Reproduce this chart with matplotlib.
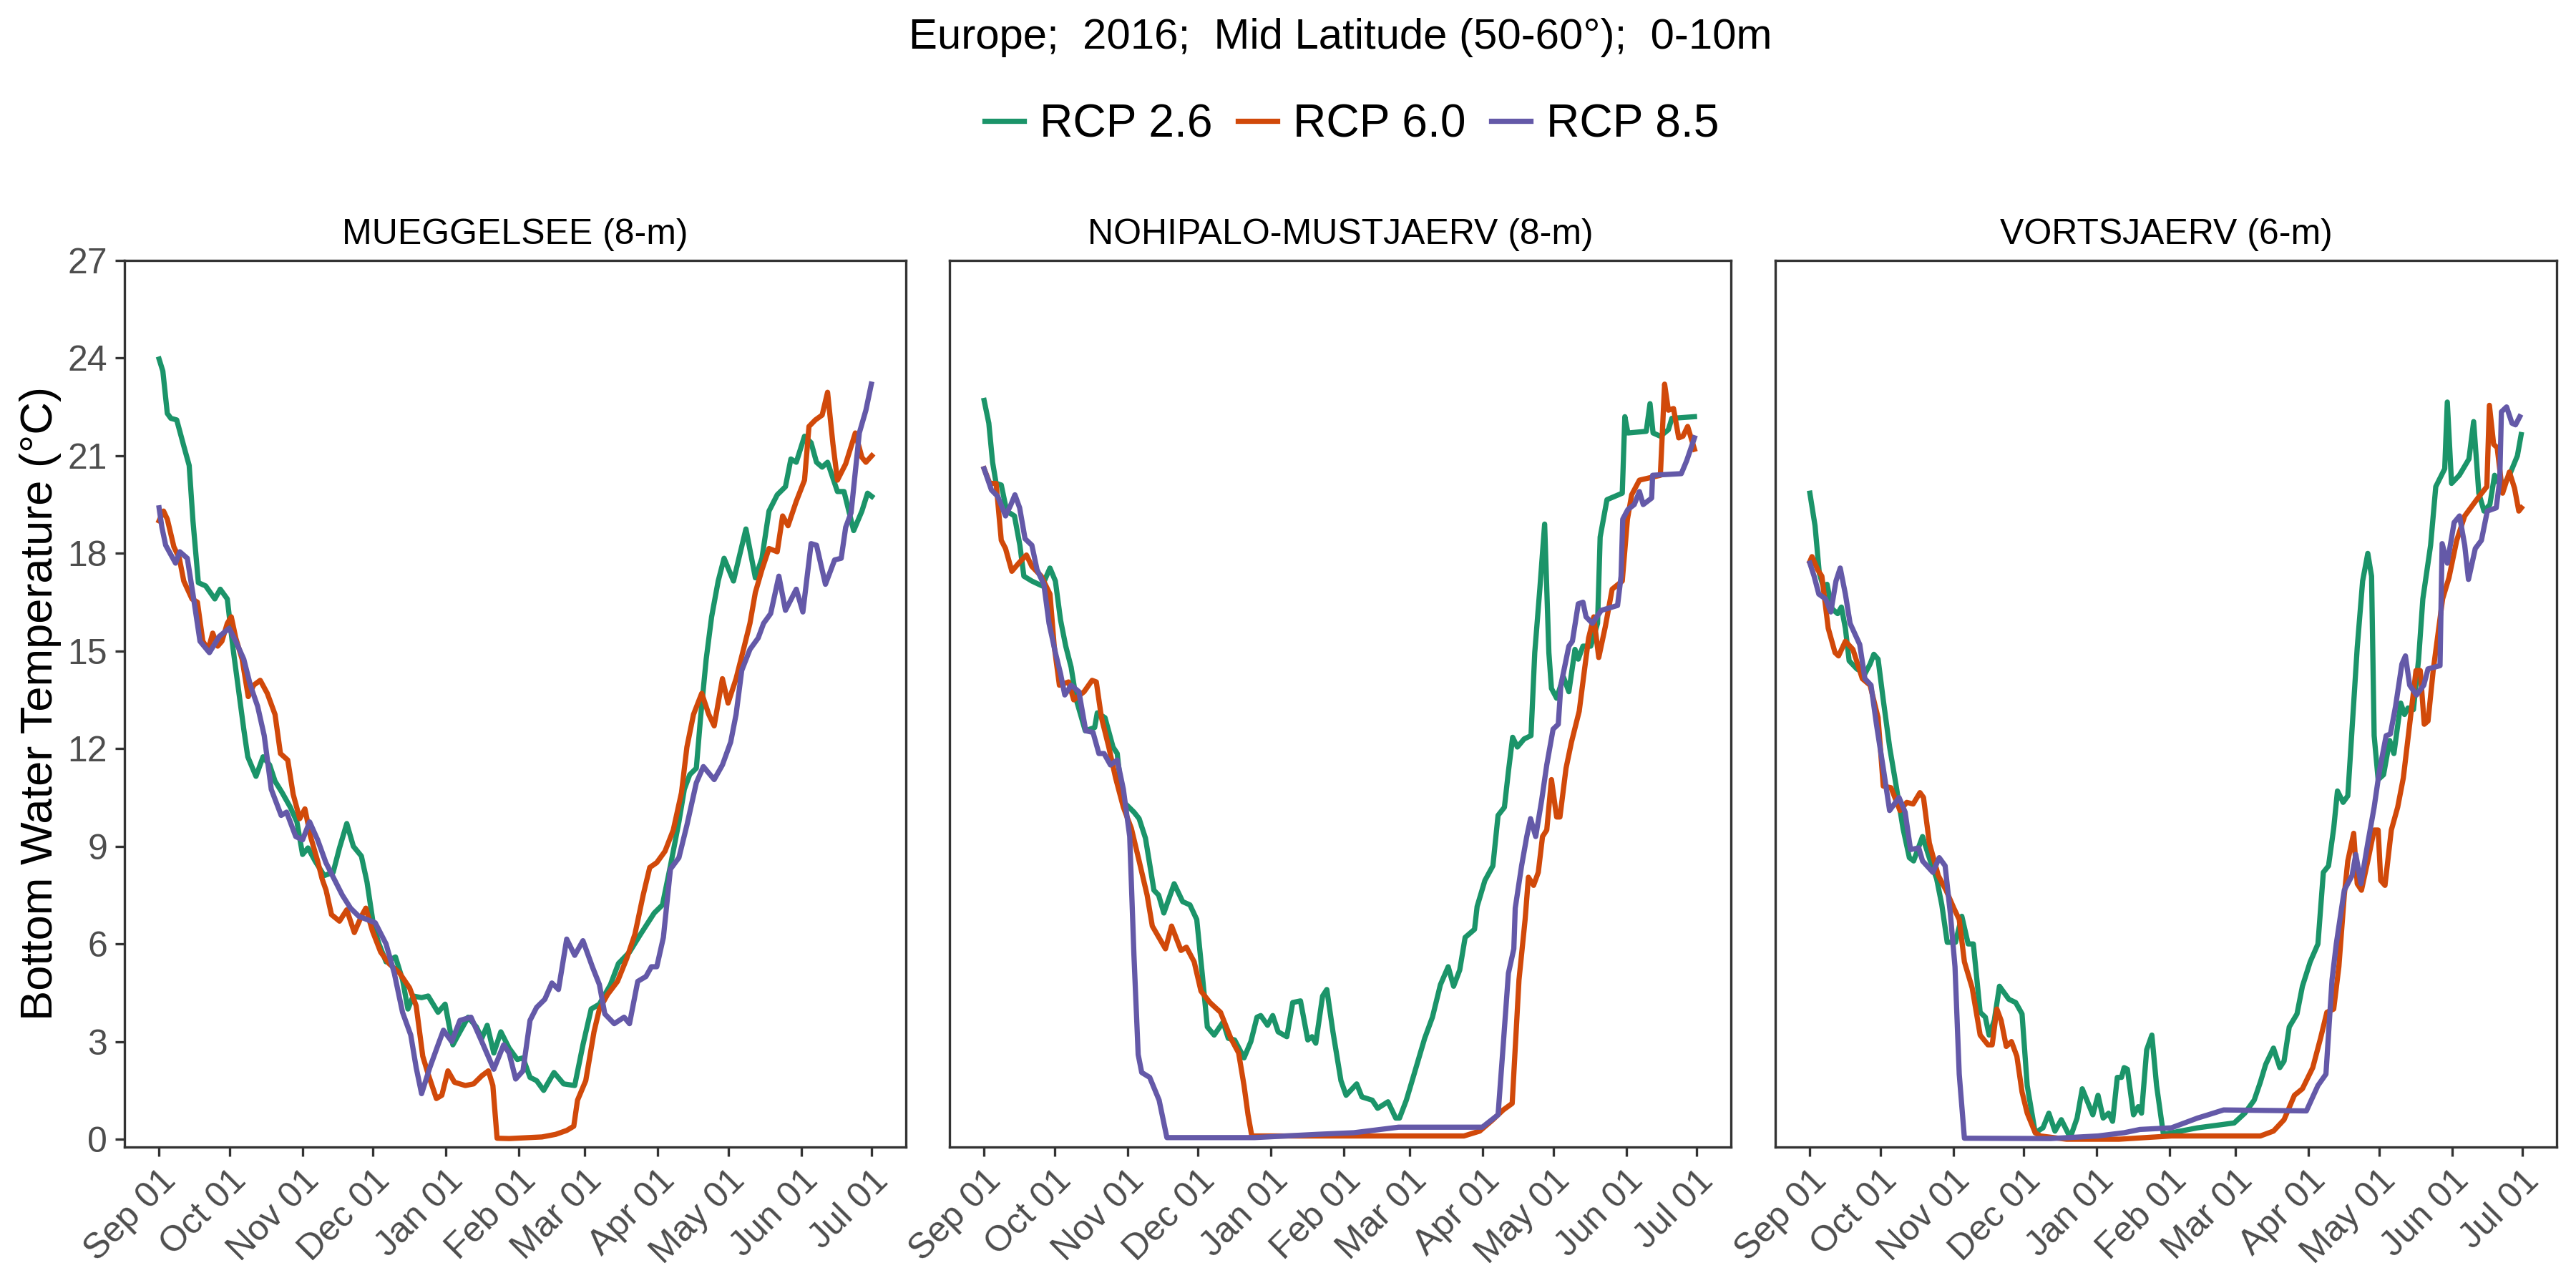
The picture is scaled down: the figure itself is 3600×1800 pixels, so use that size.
import datetime
import matplotlib
matplotlib.use('Agg')
from matplotlib import pyplot as plt
import matplotlib.dates as mdates
import numpy as np

plt.rcParams['font.family'] = ['Liberation Sans', 'DejaVu Sans']

# days are counted from Sep 01 2016
mug_days_26 = [0, 1.6, 3.5, 5, 7.5, 10.5, 12.8, 14.4, 16.7, 19.8, 23.7, 26, 29, 31.4, 33.7, 36, 37.7, 41.2, 44.2, 47, 49.3, 52.3, 55.8, 58.6, 61, 63.3, 66.3, 70.2, 74, 76.7, 79.8, 82.6, 86, 88.4, 91.2, 93.5, 96.5, 100.5, 103.5, 105.8, 108, 111.6, 114.4, 118.6, 121.6, 124.9, 127.9, 131.4, 134.9, 137.2, 139.5, 142.3, 145.3, 148.8, 152.3, 154.7, 157.7, 160.5, 163.5, 167.9, 172, 176.7, 180.2, 183.7, 187.2, 191.9, 195.3, 200, 204.7, 210.5, 214, 217.4, 221, 223.3, 225.6, 228.4, 230.2, 232.6, 234.9, 237.7, 240.2, 244.2, 246.5, 249.5, 253.5, 256.3, 259.3, 262.8, 266.3, 268.6, 270.9, 274.4, 277.2, 279.5, 281.9, 284.2, 288.4, 291.2, 295.3, 298.8, 301.2, 303]
mug_vals_26 = [23.97, 23.6, 22.3, 22.15, 22.1, 21.3, 20.7, 19.0, 17.1, 17.0, 16.6, 16.9, 16.6, 15.1, 13.85, 12.6, 11.75, 11.15, 11.75, 11.5, 11, 10.65, 10.2, 9.75, 8.75, 8.95, 8.55, 8.1, 8.2, 8.95, 9.7, 9.0, 8.7, 7.9, 6.55, 6.0, 5.45, 5.6, 4.9, 4.0, 4.4, 4.35, 4.4, 3.9, 4.15, 2.9, 3.3, 3.75, 3.45, 3.1, 3.5, 2.65, 3.3, 2.8, 2.45, 2.5, 1.9, 1.8, 1.5, 2.05, 1.7, 1.65, 2.9, 4.0, 4.15, 4.75, 5.4, 5.75, 6.3, 6.95, 7.2, 8.4, 9.75, 10.75, 11.2, 11.4, 12.95, 14.75, 16.05, 17.15, 17.85, 17.15, 17.85, 18.75, 17.25, 17.85, 19.3, 19.8, 20.05, 20.9, 20.8, 21.6, 21.4, 20.8, 20.65, 20.8, 19.9, 19.9, 18.7, 19.3, 19.85, 19.75]

mug_days_60 = [0, 1.9, 3.5, 6.3, 8.6, 10.5, 14, 16.3, 18.6, 20.9, 22.8, 24.9, 26.7, 29, 30.7, 32.6, 35.3, 37.9, 40.2, 43, 46, 49.3, 51.6, 54.7, 57, 59.8, 62, 64.4, 67.4, 69.3, 71, 73.3, 76.7, 79.8, 83, 86, 87.9, 90.7, 94.2, 97.7, 102.3, 106.5, 109.3, 112.1, 114.4, 117.9, 120.2, 122.8, 125.6, 130.2, 133.7, 137.2, 140, 141.9, 143.7, 148.8, 162.8, 168.6, 173.3, 176.3, 177.9, 181.4, 184.9, 187.2, 190.7, 194.9, 198.8, 202.3, 205.8, 208.6, 211.6, 215.1, 218.6, 222.1, 224.4, 227.2, 230.7, 233.7, 236, 239.5, 241.9, 245.3, 248.8, 251.2, 253.5, 256.3, 259.3, 262.8, 265.1, 267.4, 270.9, 274.4, 276.3, 279, 281.9, 284.2, 286.5, 288.4, 291.9, 296, 298.8, 300.5, 303]
mug_vals_60 = [19.0, 19.3, 19.05, 18.2, 17.85, 17.15, 16.6, 16.5, 15.3, 15.05, 15.55, 15.15, 15.3, 15.85, 16.05, 15.4, 14.75, 13.6, 13.95, 14.1, 13.7, 13.05, 11.85, 11.65, 10.6, 9.85, 10.15, 9.3, 8.55, 8, 7.65, 6.9, 6.7, 7.05, 6.35, 6.85, 7.1, 6.4, 5.75, 5.4, 5.1, 4.65, 4.1, 2.55, 2.0, 1.25, 1.35, 2.1, 1.75, 1.65, 1.7, 1.95, 2.1, 1.65, 0.03, 0.02, 0.07, 0.15, 0.27, 0.4, 1.2, 1.8, 3.3, 4.0, 4.45, 4.85, 5.55, 6.3, 7.5, 8.35, 8.5, 8.85, 9.5, 10.65, 12.05, 13.05, 13.7, 13.05, 12.7, 14.15, 13.4, 14.15, 15.15, 15.85, 16.8, 17.5, 18.15, 18.05, 19.15, 18.85, 19.6, 20.25, 21.9, 22.1, 22.25, 22.95, 21.35, 20.25, 20.75, 21.7, 20.95, 20.8, 21.0]

mug_days_85 = [0, 1.2, 2.8, 7, 8.8, 12, 14.4, 17.4, 21.4, 25.6, 29.8, 32.6, 36, 38.8, 41.9, 44.7, 47.7, 51.9, 54.2, 58.1, 61, 64, 67.4, 70.9, 74.4, 77.9, 81.4, 84.9, 88.4, 91.9, 96.5, 100, 103.5, 107, 109.3, 111.6, 115.1, 118.6, 120.9, 124.4, 127.9, 132.6, 137.2, 142.3, 146.5, 148.8, 151.6, 154.7, 157.7, 160.5, 164, 167, 169.8, 173.3, 176.7, 180.2, 184.2, 187.2, 189.5, 193.5, 197.7, 200, 203.5, 207, 209.3, 211.6, 214.4, 217.4, 221, 224.4, 228.4, 231.4, 236, 239.5, 243, 245.3, 247.7, 251.2, 254.7, 257, 260, 263.5, 266.3, 270.9, 273.7, 277.2, 279.5, 283.3, 287.2, 290, 291.9, 294.2, 297.7, 300.5, 302.8]
mug_vals_85 = [19.4, 18.8, 18.25, 17.7, 18.05, 17.85, 16.75, 15.3, 14.95, 15.45, 15.7, 15.3, 14.75, 13.95, 13.3, 12.4, 10.75, 9.95, 10.05, 9.3, 9.2, 9.75, 9.2, 8.5, 8.0, 7.5, 7.1, 6.85, 6.75, 6.65, 6.0, 5.1, 3.9, 3.2, 2.2, 1.4, 2.2, 2.9, 3.35, 3.0, 3.65, 3.75, 3.0, 2.15, 2.9, 2.65, 1.85, 2.1, 3.65, 4.05, 4.3, 4.8, 4.6, 6.15, 5.65, 6.1, 5.3, 4.75, 3.85, 3.55, 3.75, 3.55, 4.85, 5.0, 5.3, 5.3, 6.2, 8.3, 8.65, 9.65, 10.95, 11.45, 11.05, 11.5, 12.2, 13.05, 14.4, 15.05, 15.4, 15.85, 16.15, 17.3, 16.25, 16.9, 16.2, 18.3, 18.25, 17.05, 17.8, 17.85, 18.8, 19.25, 21.7, 22.4, 23.2]

noh_days_26 = [0, 2, 3.6, 5.1, 7.3, 9.6, 12.9, 15.2, 16.9, 20.3, 24.7, 28, 30.3, 32.5, 34.7, 37, 39.2, 43, 47, 48.1, 51.4, 54.8, 56.6, 58.8, 63.7, 65.9, 68.6, 72.2, 74.2, 76.4, 80.8, 84.4, 87.5, 90.4, 92.7, 94.9, 97.8, 101.6, 103.8, 106.5, 110.5, 113.4, 116, 117.6, 120.5, 122.7, 125, 128.7, 131.2, 134.5, 137.6, 139.4, 141, 143.9, 145.7, 148.3, 151.7, 153.9, 158.4, 160.6, 165, 167.3, 171.7, 175, 176.6, 179.5, 182.8, 187.3, 190.6, 194, 197.3, 199.6, 202.2, 204.5, 208.5, 209.6, 212.9, 216.3, 218.5, 221.2, 222.9, 224.7, 226.7, 229.6, 232.5, 234.1, 236.3, 238.3, 240.1, 241.2, 243.4, 246.3, 248.6, 251.2, 252.6, 254.6, 257.9, 260.8, 261.9, 264.8, 271.3, 272.4, 273.7, 281.5, 283.1, 284.4, 287.5, 290.9, 292.4, 302]
noh_vals_26 = [22.7, 22, 20.8, 20.15, 20.1, 19.3, 19.15, 18.25, 17.3, 17.15, 17, 17.55, 17.15, 15.95, 15.15, 14.5, 13.5, 12.55, 12.65, 13.1, 12.95, 12.05, 11.85, 10.4, 10.05, 9.85, 9.25, 7.65, 7.5, 6.95, 7.85, 7.3, 7.2, 6.75, 5.1, 3.45, 3.2, 3.6, 3.1, 3.05, 2.5, 3.0, 3.75, 3.8, 3.5, 3.8, 3.3, 3.15, 4.2, 4.25, 3.05, 3.15, 2.95, 4.4, 4.6, 3.3, 1.8, 1.35, 1.7, 1.3, 1.2, 0.95, 1.15, 0.65, 0.65, 1.2, 2.0, 3.1, 3.75, 4.75, 5.3, 4.7, 5.2, 6.2, 6.45, 7.15, 7.95, 8.4, 9.95, 10.2, 11.3, 12.35, 12.05, 12.3, 12.4, 14.95, 16.95, 18.9, 14.95, 13.85, 13.55, 14.2, 13.75, 15.05, 14.75, 15.15, 15.15, 15.85, 18.5, 19.65, 19.85, 22.2, 21.7, 21.75, 22.6, 21.7, 21.6, 21.8, 22.15, 22.2]

noh_days_60 = [0, 2.4, 5.1, 7.3, 9.1, 11.8, 14.7, 18, 20.3, 24.3, 28, 29.8, 32, 35.9, 38.1, 42.5, 45.9, 47.7, 49.9, 53, 55.9, 59.2, 62.6, 65.9, 69.3, 71.5, 77.1, 79.7, 83.7, 86, 89.3, 92.2, 96, 100.5, 104.9, 108.2, 110.5, 112.2, 113.8, 121.6, 155, 204, 210.7, 216.3, 220.7, 224.5, 227.4, 230, 231.4, 233.6, 235.6, 237.4, 239.2, 241.2, 243.4, 244.8, 247.4, 249.7, 253, 255.2, 257, 259.2, 261.3, 264.1, 267, 271.3, 273.5, 275.3, 278.6, 287.5, 289.3, 290.9, 293.1, 295.3, 297.1, 299.1, 302]
noh_vals_60 = [20.6, 20.15, 20.15, 18.4, 18.15, 17.45, 17.7, 17.95, 17.6, 17.3, 16.75, 15.15, 13.95, 14.05, 13.5, 13.75, 14.1, 14.05, 12.95, 12.05, 11.1, 10.2, 9.55, 8.55, 7.5, 6.55, 5.85, 6.55, 5.8, 5.9, 5.45, 4.55, 4.2, 3.9, 3.1, 2.65, 1.65, 0.75, 0.1, 0.1, 0.1, 0.1, 0.25, 0.6, 0.9, 1.1, 4.9, 6.75, 8.05, 7.8, 8.2, 9.3, 9.5, 11.05, 9.9, 9.9, 11.4, 12.2, 13.15, 14.4, 15.4, 16.05, 14.8, 15.75, 16.9, 17.15, 19.05, 19.8, 20.25, 20.4, 23.2, 22.4, 22.45, 21.55, 21.6, 21.9, 21.2]

noh_days_85 = [0, 3.1, 5.8, 9.1, 11.4, 13.1, 15.1, 17.4, 20.3, 22.5, 25.4, 27.6, 30.3, 32.5, 34.3, 37, 40.3, 43.2, 46.3, 48.8, 51, 53.7, 56.6, 59.2, 61.9, 63.7, 65.5, 67, 70.4, 74.4, 77.7, 114.9, 141.6, 157.2, 168.4, 176.2, 211.8, 218.5, 220.7, 222.9, 225.2, 225.8, 228.5, 230.7, 232.3, 234.5, 237, 239.2, 241.9, 244.1, 245.2, 248.6, 250.1, 252.6, 254.6, 255.9, 258.6, 262.4, 269.3, 270.8, 271.5, 273.7, 276.4, 278.6, 280.2, 283.8, 284.2, 296.4, 298.7, 302]
noh_vals_85 = [20.6, 19.95, 19.75, 19.15, 19.5, 19.8, 19.4, 18.45, 18.25, 17.5, 17.05, 15.85, 14.95, 14.3, 13.65, 13.95, 13.75, 12.55, 12.5, 11.85, 11.85, 11.5, 11.65, 10.75, 9.3, 5.65, 2.6, 2.05, 1.9, 1.2, 0.05, 0.05, 0.15, 0.2, 0.3, 0.37, 0.37, 0.75, 2.9, 5.1, 5.85, 7.1, 8.4, 9.3, 9.85, 9.3, 10.4, 11.5, 12.6, 12.75, 13.95, 15.15, 15.3, 16.45, 16.5, 16.05, 15.85, 16.25, 16.4, 17.3, 19.05, 19.35, 19.5, 19.9, 19.5, 19.7, 20.4, 20.45, 20.85, 21.55]

vor_days_26 = [0, 2.2, 4, 5.6, 7.3, 9.4, 11.8, 13.4, 15.1, 16.7, 20, 23.4, 25.6, 27.2, 29, 31.2, 33.9, 36.7, 39.6, 42.3, 44.1, 47.9, 51.2, 53.9, 56.1, 58.4, 61.9, 64.6, 67.3, 69.5, 72.4, 74.6, 76.2, 78.4, 80.6, 84.6, 87.5, 90.2, 92.4, 95.8, 99.1, 101.6, 104.2, 106.9, 110.7, 113.6, 115.8, 120.3, 122.5, 124.7, 127, 128.7, 130.7, 132.5, 133.6, 135, 137.6, 139.6, 141, 143.2, 145.4, 147.4, 150.3, 164.8, 180.4, 184.9, 188.9, 191.5, 193.8, 197.1, 199.8, 201.6, 203.8, 207.1, 209.4, 212.7, 216, 218.3, 220.5, 222.7, 224.3, 226.7, 228.7, 230.5, 232.7, 235, 237.2, 238.8, 239.9, 241.6, 243.9, 246.5, 248.3, 251.2, 252.8, 254.3, 256.6, 258.8, 260.6, 263.9, 266.1, 269.9, 271, 272.8, 276.1, 280.2, 282.2, 284.4, 286.6, 289.1, 291.1, 294, 297.4, 300.8, 302.4]
vor_vals_26 = [19.85, 18.85, 17.4, 17, 17.05, 16.3, 16.15, 16.35, 15.7, 14.7, 14.45, 14.3, 14.6, 14.9, 14.75, 13.5, 12.05, 10.85, 9.55, 8.65, 8.55, 9.3, 8.55, 8, 7.2, 6.05, 6.05, 6.85, 6, 6, 3.9, 3.75, 3.2, 3.65, 4.7, 4.3, 4.2, 3.85, 1.65, 0.2, 0.35, 0.8, 0.25, 0.6, 0.05, 0.65, 1.55, 0.75, 1.35, 0.65, 0.8, 0.55, 1.9, 1.9, 2.2, 2.15, 0.75, 1.0, 0.8, 2.75, 3.2, 1.65, 0.15, 0.35, 0.5, 0.8, 1.2, 1.75, 2.3, 2.8, 2.2, 2.4, 3.45, 3.85, 4.7, 5.45, 6, 8.2, 8.4, 9.55, 10.7, 10.35, 10.55, 12.6, 15.1, 17.15, 18, 17.3, 12.4, 11.05, 11.2, 12.25, 11.85, 13.4, 13.05, 13.25, 13.2, 14.75, 16.6, 18.25, 20.05, 20.6, 22.65, 20.15, 20.4, 20.9, 22.05, 19.85, 19.3, 19.5, 20.4, 20, 20.4, 21, 21.65]

vor_days_60 = [0, 0.9, 3.3, 5.1, 7.8, 10.7, 12.2, 15.1, 18.3, 22.3, 25.6, 29, 31.2, 34.5, 38.3, 41.2, 43.9, 46.8, 48.3, 50.8, 54.6, 57.9, 61.2, 63.5, 65.7, 69, 72.4, 75.7, 77.5, 79.5, 81.3, 83.5, 85.7, 88, 90.2, 92.4, 95.8, 98, 109.1, 131.4, 153.7, 191.5, 197.1, 201.6, 206, 209.4, 213.8, 217.1, 219.8, 222.7, 224.9, 227.2, 228.7, 231.2, 232.7, 234.5, 237.2, 239.9, 241.6, 242.7, 244.5, 247.2, 249.9, 252.3, 255, 257.7, 259.5, 261.2, 262.8, 265, 269, 271.7, 275, 278.4, 284, 287.8, 288.9, 290.7, 292.2, 294.5, 297.4, 299.6, 301.4, 302.5]
vor_vals_60 = [17.75, 17.9, 17.5, 17.3, 15.7, 14.95, 14.85, 15.3, 15.05, 14.15, 13.95, 12.95, 10.85, 10.8, 10.1, 10.35, 10.3, 10.65, 10.5, 9.1, 8.1, 7.65, 7.1, 6.75, 5.45, 4.65, 3.2, 2.9, 2.9, 4.0, 3.65, 2.85, 3, 2.55, 1.45, 0.8, 0.2, 0.1, 0, 0, 0.1, 0.1, 0.25, 0.6, 1.35, 1.55, 2.2, 3.1, 3.9, 4.0, 5.3, 7.5, 8.55, 9.4, 7.85, 7.65, 8.55, 9.5, 9.5, 7.95, 7.8, 9.5, 10.2, 11.1, 12.75, 14.4, 14.4, 12.75, 12.85, 14.4, 16.6, 17.25, 18.4, 19.15, 19.7, 20.05, 22.55, 21.35, 21.25, 19.85, 20.5, 20, 19.3, 19.4]

vor_days_85 = [0, 1.8, 3.8, 6.7, 8.9, 11.1, 12.9, 15.1, 17.1, 21.2, 23.4, 26, 28.3, 31.2, 33.9, 37.9, 40.5, 42.8, 46.3, 47.9, 52.3, 55, 57.5, 59.7, 61.7, 63.5, 65.7, 102.4, 122.5, 133.6, 140.3, 153.7, 164.8, 169.3, 175.9, 211.1, 216, 219.4, 222, 223.8, 227.2, 230.5, 232.1, 234.3, 237.2, 239.9, 242.1, 245, 246.8, 249, 251.7, 253.2, 255, 257.9, 261, 262.8, 267.9, 268.8, 271, 273.9, 276.2, 278.4, 280, 282.9, 285.5, 288, 291.8, 293.3, 294, 296.2, 298.5, 300, 301.8]
vor_vals_85 = [17.7, 17.3, 16.75, 16.6, 16.2, 17.15, 17.55, 16.75, 15.85, 15.2, 14.15, 13.95, 12.75, 11.4, 10.1, 10.5, 10.05, 8.9, 8.95, 8.55, 8.2, 8.65, 8.4, 6.95, 5.3, 2.0, 0.03, 0.02, 0.1, 0.2, 0.3, 0.35, 0.65, 0.75, 0.9, 0.87, 1.65, 2.0, 4.9, 6, 7.65, 8.1, 8.75, 7.85, 9.1, 10.2, 11.3, 12.4, 12.45, 13.3, 14.6, 14.85, 13.95, 13.65, 13.95, 14.45, 14.55, 18.3, 17.7, 18.95, 19.15, 18.25, 17.2, 18.15, 18.4, 19.3, 19.4, 20.25, 22.35, 22.5, 22, 21.95, 22.2]

lake_titles = ['MUEGGELSEE (8-m)', 'NOHIPALO-MUSTJAERV (8-m)', 'VORTSJAERV (6-m)']
rcp_names = ['RCP 2.6', 'RCP 6.0', 'RCP 8.5']
rcp_colors = ['#1B9469', '#D1490A', '#6459A8']
y_ticks = [0, 3, 6, 9, 12, 15, 18, 21, 24, 27]

panels = [
    [(mug_days_26, mug_vals_26), (mug_days_60, mug_vals_60), (mug_days_85, mug_vals_85)],
    [(noh_days_26, noh_vals_26), (noh_days_60, noh_vals_60), (noh_days_85, noh_vals_85)],
    [(vor_days_26, vor_vals_26), (vor_days_60, vor_vals_60), (vor_days_85, vor_vals_85)],
]

start = mdates.date2num(datetime.date(2016, 9, 1))

fig = plt.figure(figsize=(12, 6), dpi=300)
ax_lefts = [174 / 3600, 1327 / 3600, 2481 / 3600]
handles = []
for i, panel in enumerate(panels):
    ax = fig.add_axes([ax_lefts[i], 1 - 1603 / 1800, 1092 / 3600, 1239 / 1800])
    for (days, vals), color, name in zip(panel, rcp_colors, rcp_names):
        line, = ax.plot(start + np.array(days), vals, color=color, lw=1.75, label=name,
                        solid_joinstyle='round')
        if i == 0:
            handles.append(line)
    ax.set_xlim(start - 14.7, start + 317.5)
    ax.set_ylim(-0.24, 27)
    ax.xaxis.set_major_locator(mdates.MonthLocator())
    ax.xaxis.set_major_formatter(mdates.DateFormatter('%b %d'))
    ax.set_yticks(y_ticks)
    ax.tick_params(axis='both', labelsize=12, labelcolor='#4D4D4D', color='#333333',
                   length=3.2, width=0.8, pad=2.5)
    for label in ax.get_xticklabels():
        label.set_rotation(45)
        label.set_ha('right')
        label.set_rotation_mode('anchor')
    if i == 0:
        ax.set_ylabel('Bottom Water Temperature (°C)', fontsize=15.2, labelpad=2)
    else:
        ax.tick_params(axis='y', left=False, labelleft=False)
    for spine in ax.spines.values():
        spine.set_color('#333333')
        spine.set_linewidth(0.8)
    ax.set_title(lake_titles[i], fontsize=12, pad=5.5)

fig.text(816 / 1568, 1 - 23 / 784, 'Europe;  2016;  Mid Latitude (50-60°);  0-10m',
         ha='center', va='center', fontsize=14.4)
fig.legend(handles, rcp_names, loc='center', ncol=3, bbox_to_anchor=(823 / 1568, 1 - 76 / 784),
           frameon=False, fontsize=15.4, handlelength=0.85, handletextpad=0.35, columnspacing=0.55)

plt.savefig('out.png', dpi=300)
plt.close()
